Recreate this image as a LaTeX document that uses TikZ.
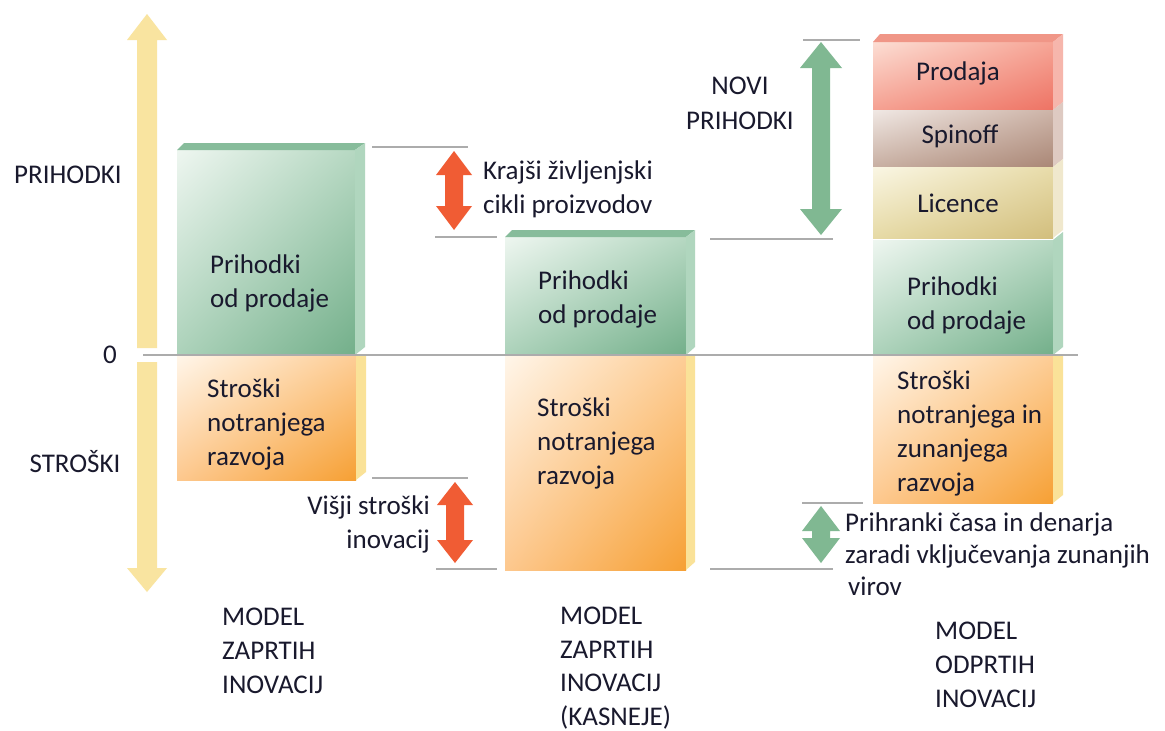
\documentclass[tikz,border=0pt]{standalone}
\usepackage{fontspec}
\setmainfont{Carlito}
\usetikzlibrary{shadings}
\definecolor{txt}{RGB}{25,25,45}
\definecolor{grayline}{RGB}{172,172,172}
\definecolor{axisyel}{RGB}{249,228,160}
\definecolor{redarr}{RGB}{240,92,52}
\definecolor{grnarr}{RGB}{128,184,146}
% green
\definecolor{gUL}{RGB}{238,246,240}
\definecolor{gUR}{RGB}{182,216,194}
\definecolor{gLL}{RGB}{172,210,186}
\definecolor{gLR}{RGB}{115,175,138}
\definecolor{gTop}{RGB}{135,188,155}
\definecolor{gSide}{RGB}{176,214,190}
% orange
\definecolor{oUL}{RGB}{255,246,234}
\definecolor{oUR}{RGB}{253,205,150}
\definecolor{oLL}{RGB}{253,200,142}
\definecolor{oLR}{RGB}{246,160,52}
\definecolor{oSide}{RGB}{250,226,152}
% prodaja
\definecolor{pUL}{RGB}{252,222,212}
\definecolor{pUR}{RGB}{246,165,150}
\definecolor{pLL}{RGB}{245,160,145}
\definecolor{pLR}{RGB}{238,115,100}
\definecolor{pTop}{RGB}{240,150,135}
\definecolor{pSide}{RGB}{246,182,172}
% spinoff
\definecolor{sUL}{RGB}{240,232,228}
\definecolor{sUR}{RGB}{205,180,168}
\definecolor{sLL}{RGB}{200,175,162}
\definecolor{sLR}{RGB}{170,135,118}
\definecolor{sSide}{RGB}{222,202,194}
% licence
\definecolor{lUL}{RGB}{250,246,228}
\definecolor{lUR}{RGB}{232,220,170}
\definecolor{lLL}{RGB}{230,218,165}
\definecolor{lLR}{RGB}{210,190,125}
\definecolor{lSide}{RGB}{240,232,205}

\tikzset{
  lbl/.style={font=\fontsize{27}{34}\selectfont, text=txt, inner sep=0pt, align=left},
  guide/.style={draw=grayline, line width=1.5pt},
}
% front face with bilinear shading: x0,yt,x1,yb,prefix
\newcommand\frontface[5]{%
  \shade[upper left=#5UL, upper right=#5UR, lower left=#5LL, lower right=#5LR]
    (#1,#2) rectangle (#3,#4);}
% vertical double block arrow: x, ytop, ybot, shaft half, head half, head len, colour
\newcommand\vdblarrow[7]{%
  \fill[#7] (#1,#2) -- (#1+#5,#2+#6) -- (#1+#4,#2+#6) -- (#1+#4,#3-#6) -- (#1+#5,#3-#6)
    -- (#1,#3) -- (#1-#5,#3-#6) -- (#1-#4,#3-#6) -- (#1-#4,#2+#6) -- (#1-#5,#2+#6) -- cycle;}

\begin{document}
\begin{tikzpicture}[x=1pt,y=-1pt]
\useasboundingbox[fill=white] (0,0) rectangle (1165,731);

% ---- axis arrows
\fill[axisyel] (147,14) -- (167,40) -- (157,40) -- (157,348) -- (137,348) -- (137,40) -- (127,40) -- cycle;
\fill[axisyel] (137,362) -- (157,362) -- (157,568) -- (167,568) -- (147,592) -- (127,568) -- (137,568) -- cycle;

% ---- box 1
\frontface{177}{150}{355}{355}{g}
\fill[gTop] (177,150) -- (184,143) -- (365,143) -- (355,150) -- cycle;
\fill[gSide] (355,150) -- (365,143) -- (365,347) -- (355,355) -- cycle;
\frontface{177}{355}{356}{480}{o}
\fill[oSide] (356,355) -- (366,355) -- (366,472) -- (356,480) -- cycle;

% ---- box 2
\frontface{505}{237}{686}{355}{g}
\fill[gTop] (505,237) -- (512,230) -- (695,230) -- (686,237) -- cycle;
\fill[gSide] (686,237) -- (695,230) -- (695,347) -- (686,355) -- cycle;
\frontface{505}{355}{686}{570}{o}
\fill[oSide] (686,355) -- (695,355) -- (695,562) -- (686,570) -- cycle;

% ---- box 3 (stack)
\frontface{873}{42}{1053}{110}{p}
\fill[pTop] (873,42) -- (880,34) -- (1063,34) -- (1053,42) -- cycle;
\fill[pSide] (1053,42) -- (1063,34) -- (1063,102) -- (1053,110) -- cycle;
\frontface{873}{110}{1053}{167}{s}
\fill[sSide] (1053,110) -- (1063,102) -- (1063,159) -- (1053,167) -- cycle;
\frontface{873}{167}{1053}{238}{l}
\fill[lSide] (1053,167) -- (1063,159) -- (1063,230) -- (1053,238) -- cycle;
\frontface{873}{240}{1053}{355}{g}
\fill[gSide] (1053,240) -- (1063,232) -- (1063,347) -- (1053,355) -- cycle;
\frontface{873}{355}{1053}{503}{o}
\fill[oSide] (1053,355) -- (1063,355) -- (1063,495) -- (1053,503) -- cycle;

% ---- guide lines
\draw[guide] (143,355) -- (1078,355);
\draw[guide] (372,147) -- (468,147);
\draw[guide] (435,237) -- (497,237);
\draw[guide] (372,478) -- (468,478);
\draw[guide] (436,569) -- (497,569);
\draw[guide] (803,40) -- (860,40);
\draw[guide] (710,239) -- (833,239);
\draw[guide] (802,503) -- (863,503);
\draw[guide] (710,569) -- (833,569);

% ---- block arrows
\vdblarrow{454}{151}{230}{9}{18}{24}{redarr}
\vdblarrow{455}{482}{563}{9}{18}{23}{redarr}
\vdblarrow{821}{42}{235}{9}{21}{26}{grnarr}
\vdblarrow{821}{506}{563}{9}{19}{25}{grnarr}

% ---- texts
\node[lbl] (prih) at (68,175) {PRIHODKI};
\node[lbl] (nic) at (110,355) {0};
\node[lbl] (stro) at (75,462) {STROŠKI};

\node[lbl, anchor=west] (t1g) at (210,283) {Prihodki\\od prodaje};
\node[lbl, anchor=west] (t1o) at (207,424) {Stroški\\notranjega\\razvoja};
\node[lbl, anchor=west] (t2g) at (538,299) {Prihodki\\od prodaje};
\node[lbl, anchor=west] (t2o) at (537,443) {Stroški\\notranjega\\razvoja};

\node[lbl, anchor=west] (kraj) at (483,189) {Krajši življenjski\\cikli proizvodov};
\node[lbl, anchor=east, align=right] (visj) at (430,524) {Višji stroški\\inovacij};
\node[lbl, align=center, font=\fontsize{27}{35}\selectfont] (novi) at (740,103) {NOVI\\PRIHODKI};

\node[lbl] (prod) at (958,73) {Prodaja};
\node[lbl] (spin) at (960,136) {Spinoff};
\node[lbl] (lic) at (958,203) {Licence};
\node[lbl, anchor=west] (t3g) at (907,305) {Prihodki\\od prodaje};
\node[lbl, anchor=west] (t3o) at (897,433) {Stroški\\notranjega in\\zunanjega\\razvoja};
\node[lbl, anchor=west, font=\fontsize{27}{32}\selectfont] (prihr) at (845,554) {Prihranki časa in denarja\\zaradi vključevanja zunanjih\\\hspace{3pt}virov};

\node[lbl, anchor=west] (m1) at (222,651) {MODEL\\ZAPRTIH\\INOVACIJ};
\node[lbl, anchor=west, font=\fontsize{27}{33.5}\selectfont] (m2) at (560,668) {MODEL\\ZAPRTIH\\INOVACIJ\\(KASNEJE)};
\node[lbl, anchor=west] (m3) at (935,665) {MODEL\\ODPRTIH\\INOVACIJ};
\end{tikzpicture}
\end{document}
